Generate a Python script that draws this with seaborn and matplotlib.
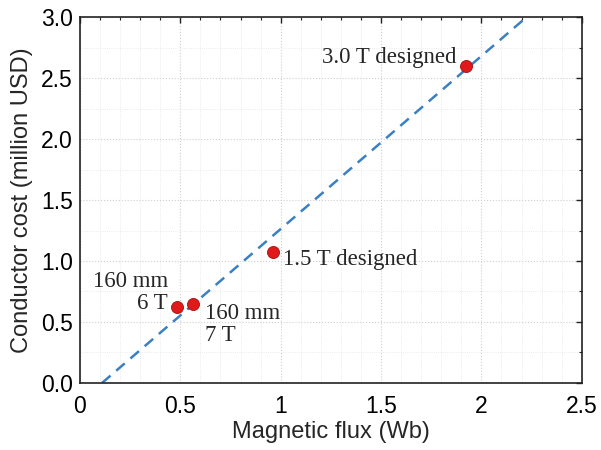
import matplotlib
matplotlib.use("Agg")
import matplotlib.pyplot as plt
from matplotlib.ticker import MultipleLocator
import seaborn as sns
import pandas as pd

flux = [0.484, 0.565, 0.96, 1.925]
cost = [0.625, 0.645, 1.075, 2.60]
labels = ["160 mm\n6 T", "160 mm\n7 T", "1.5 T designed", "3.0 T designed"]
fit_x = [0.11, 2.225]
fit_y = [0.0, 3.0]

sns.set_style("white")
plt.rcParams["font.family"] = ["Liberation Sans", "DejaVu Sans"]

fig = plt.figure(figsize=(6.01, 4.5), dpi=100)
ax = fig.add_axes([0.133, 0.149, 0.835, 0.813])

pts = pd.DataFrame({"flux": flux, "cost": cost})
fit = pd.DataFrame({"x": fit_x, "y": fit_y})

ax.xaxis.set_minor_locator(MultipleLocator(0.1))
ax.yaxis.set_minor_locator(MultipleLocator(0.25))
ax.grid(True, which="major", color="#cfcfcf", linestyle=":", linewidth=0.8)
ax.grid(True, which="minor", color="#e4e4e4", linestyle=":", linewidth=0.6)
ax.set_axisbelow(True)

sns.lineplot(data=fit, x="x", y="y", ax=ax, color="#3a80c2", linewidth=1.8,
             linestyle=(0, (4.5, 3)), zorder=2)
sns.scatterplot(data=pts, x="flux", y="cost", ax=ax, color="#e01a1a",
                edgecolor="#a01010", linewidth=0.6, s=75, zorder=3)

ax.set_xlim(0, 2.5)
ax.set_ylim(0, 3.0)
ax.set_xticks([0, 0.5, 1, 1.5, 2, 2.5])
ax.set_xticklabels(["0", "0.5", "1", "1.5", "2", "2.5"])
ax.set_yticks([0, 0.5, 1.0, 1.5, 2.0, 2.5, 3.0])
ax.set_yticklabels(["0.0", "0.5", "1.0", "1.5", "2.0", "2.5", "3.0"])
ax.tick_params(which="both", direction="in", top=True, right=True, colors="#222222",
               labelcolor="black", labelsize=16.5)
ax.tick_params(which="major", length=4, width=1)
ax.tick_params(which="minor", length=2.5, width=0.8)
ax.tick_params(axis="x", which="major", pad=9)
ax.tick_params(axis="y", which="major", pad=5)
for s in ax.spines.values():
    s.set_color("#222222")
    s.set_linewidth(1.2)

ax.set_xlabel("Magnetic flux (Wb)", fontsize=17, labelpad=2)
ax.set_ylabel("Conductor cost (million USD)", fontsize=17, labelpad=6)

serif = ["Liberation Serif", "DejaVu Serif"]
offsets = [(-9, -7, "right", "bottom"), (12, 1, "left", "top"),
           (10, -8, "left", "center"), (-10, 3, "right", "baseline")]
for xv, yv, lab, (dx, dy, ha, va) in zip(flux, cost, labels, offsets):
    ax.annotate(lab, (xv, yv), xytext=(dx, dy), textcoords="offset pixels",
                ha=ha, va=va, fontsize=16.5, family=serif, linespacing=1.05)

fig.savefig("out.png", dpi=100)
